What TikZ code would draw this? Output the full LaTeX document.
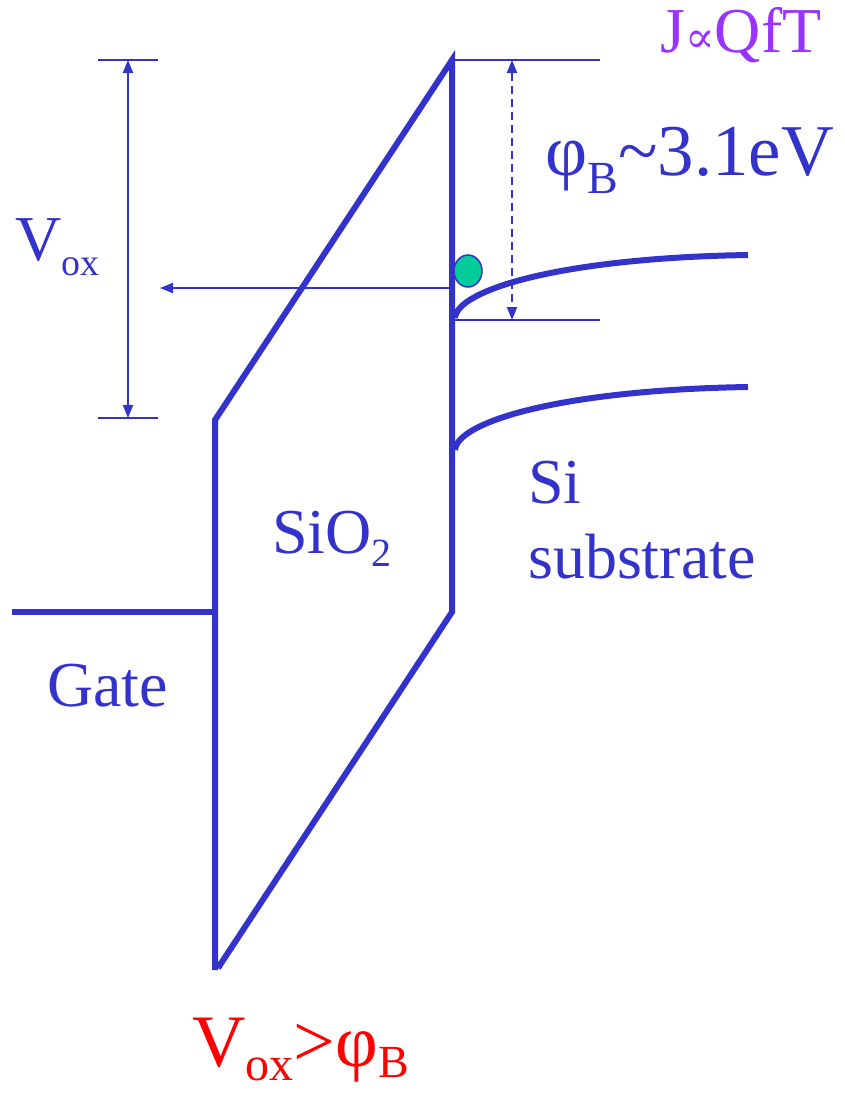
\documentclass[tikz,border=0pt]{standalone}
\usepackage{fontspec}
\setmainfont{Liberation Serif}
\newfontfamily\symfont{DejaVu Serif}
\usetikzlibrary{arrows.meta,shapes.geometric}
\definecolor{bandblue}{HTML}{3333CC}
\definecolor{labred}{HTML}{FF0000}
\definecolor{labpurple}{HTML}{9933FF}
\definecolor{dotgreen}{HTML}{00CC99}
% lowered subscript: size, drop (pt), text
\newcommand{\lowsub}[3]{\raisebox{-#2pt}{\fontsize{#1}{#1}\selectfont #3}}
\begin{document}
\begin{tikzpicture}[x=1pt,y=-1pt,
    band/.style={bandblue, line width=6pt},
    guide/.style={bandblue, line width=2pt},
    tip/.tip={Triangle[length=13pt,width=10pt]},
    lbl/.style={bandblue, font=\fontsize{64}{70}\selectfont, inner sep=0pt, anchor=base west}]
    \useasboundingbox (0,0) rectangle (844,1093);
    % Corners of the oxide
    \coordinate (OxTL) at (215,420);
    \coordinate (OxBL) at (215,970);
    \coordinate (OxTR) at (452,60);
    \coordinate (OxBR) at (452,612);
    \coordinate (GateL) at (12,612);
    \coordinate (GateR) at (215,612);
    % Gate and oxide barrier
    \draw[band] (GateL) -- (GateR);
    \draw[band] (OxBL) -- (OxTL) -- (OxTR) -- (OxBR) -- (218,968);
    % Bands of the substrate
    \foreach \y/\n in {318/cb,450/vb} {
      \coordinate (\n S) at (455,\y);
      \coordinate (\n E) at (748,\y-63);
      \draw[band] (\n S) .. controls (457,\y-28) and (560,\y-60) .. (\n E);
    }
    % Barrier height
    \coordinate (BarTop) at (600,60);
    \coordinate (BarBot) at (600,320);
    \draw[guide] (OxTR) -- (BarTop);
    \draw[guide] (455,320) -- (BarBot);
    \draw[guide, dash pattern=on 8pt off 5pt, tip-tip] (512,60) -- (512,320);
    % Oxide voltage
    \coordinate (VoxTop) at (128,60);
    \coordinate (VoxBot) at (128,418);
    \draw[guide] (98,60) -- (158,60);
    \draw[guide] (98,418) -- (158,418);
    \draw[guide, tip-tip] (VoxTop) -- (VoxBot);
    % Tunnelling electron
    \coordinate (Emit) at (452,288);
    \coordinate (Arrive) at (160,288);
    \draw[guide, -tip] (Emit) -- (Arrive);
    \node[draw=bandblue, line width=1.5pt, fill=dotgreen, ellipse, minimum width=28pt, minimum height=32pt, inner sep=0pt] (electron) at (468,271) {};
    % Labels
    \node[lbl] (gate) at (47,706) {Gate};
    \node[lbl] (sio2) at (272,553) {SiO\lowsub{40}{13}{2}};
    \node[lbl] (si) at (528,503) {Si};
    \node[lbl] (substrate) at (528,578) {substrate};
    \node[lbl, font=\fontsize{73}{80}\selectfont] (phib) at (545,175) {φ\lowsub{46}{18}{B}\textasciitilde3.1eV};
    \node[lbl] (vox) at (15,260) {V\lowsub{38}{15}{ox}};
    \node[lbl, labpurple, font=\fontsize{64}{70}\selectfont] (current) at (660,52) {J{\symfont\fontsize{44}{44}\selectfont ∝}QfT};
    \node[lbl, labred, font=\fontsize{74}{80}\selectfont] (cond) at (192,1066) {V\lowsub{48}{14}{ox}>φ\lowsub{46}{11}{B}};
\end{tikzpicture}
\end{document}
